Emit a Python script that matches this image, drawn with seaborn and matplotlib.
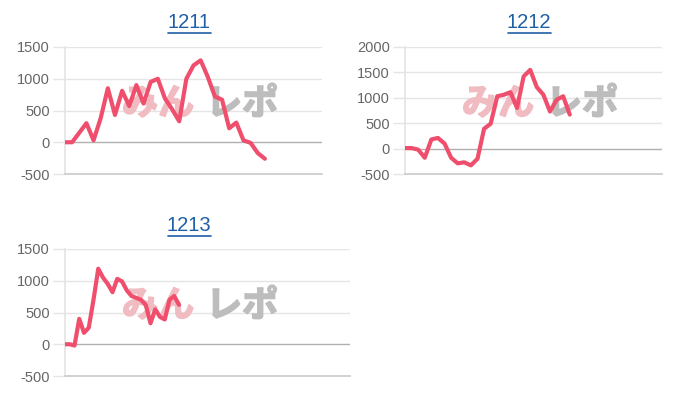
import numpy as np
import pandas as pd
import seaborn as sns
import matplotlib.pyplot as plt
import matplotlib.patheffects as pe
from matplotlib.lines import Line2D

# データ
titles = ['1211', '1212', '1213']
vals_1211 = [0, 0, 150, 300, 30, 380, 850, 430, 810, 570, 900, 610, 950, 1000,
             690, 520, 330, 1000, 1210, 1290, 1030, 720, 670, 220, 310, 30, -10,
             -170, -260]
vals_1212 = [10, 10, -20, -180, 180, 210, 100, -180, -290, -270, -330, -200,
             390, 490, 1030, 1060, 1110, 800, 1420, 1550, 1210, 1060, 730, 960,
             1030, 670]
vals_1213 = [0, 0, -20, 400, 180, 260, 700, 1190, 1050, 950, 820, 1030, 990,
             850, 760, 730, 700, 620, 330, 550, 430, 390, 700, 760, 620]
x_max = [36, 39, 60]
y_ticks = [[-500, 0, 500, 1000, 1500],
           [-500, 0, 500, 1000, 1500, 2000],
           [-500, 0, 500, 1000, 1500]]

sns.set_theme(style='white')
plt.rcParams['font.family'] = ['Liberation Sans', 'Noto Sans CJK JP', 'DejaVu Sans']

line_color = '#ef4f6d'
grid_color = '#e5e5e5'
zero_color = '#b0b0b0'

fig = plt.figure(figsize=(7, 4), dpi=100)

# パネル位置 (px)
panels = [(65, 47, 257, 127), (405, 47, 257, 127), (65, 249, 285, 127)]
title_pos = [(189, 23), (529, 23), (189, 226)]
mark_pos = [(122, 104), (462, 104), (122, 306)]

def px(x, y):
    return x / 700, 1 - y / 400

series = [vals_1211, vals_1212, vals_1213]
for k in range(3):
    l, t, w, h = panels[k]
    ax = fig.add_axes([l / 700, 1 - (t + h) / 400, w / 700, h / 400])
    df = pd.DataFrame({'x': np.arange(len(series[k])), 'y': series[k]})
    sns.lineplot(data=df, x='x', y='y', ax=ax, color=line_color, linewidth=3,
                 zorder=5)
    ax.set_xlim(0, x_max[k])
    ax.set_ylim(y_ticks[k][0], y_ticks[k][-1])
    ax.set_yticks(y_ticks[k])
    ax.set_yticklabels([str(v) for v in y_ticks[k]])
    ax.set_xticks([])
    ax.set_xlabel('')
    ax.set_ylabel('')
    ax.set_facecolor('none')
    for v in y_ticks[k]:
        if v == 0:
            ax.axhline(v, color=zero_color, lw=1, zorder=1)
        elif v != y_ticks[k][0]:
            ax.axhline(v, color=grid_color, lw=1, zorder=1)
    for s in ['top', 'right']:
        ax.spines[s].set_visible(False)
    ax.spines['left'].set_color(grid_color)
    ax.spines['bottom'].set_color('#cccccc')
    ax.tick_params(axis='y', length=9, width=1, color=grid_color, pad=2,
                   labelsize=10.5, labelcolor='#666666', left=True)

    # 透かし (線の下に描く)
    mx, my = px(*mark_pos[k])
    ax.text(mx, my, 'みん', transform=fig.transFigure, fontsize=26,
            fontweight='bold', color='#f0bcc2', va='center', ha='left',
            family=['Noto Sans CJK JP'], zorder=2,
            path_effects=[pe.withStroke(linewidth=1.2, foreground='#f0bcc2')])
    ax.text(mx + 84 / 700, my, 'レポ', transform=fig.transFigure, fontsize=26,
            fontweight='bold', color='#bdbdbd', va='center', ha='left',
            family=['Noto Sans CJK JP'], zorder=2,
            path_effects=[pe.withStroke(linewidth=1.2, foreground='#bdbdbd')])

    # タイトル (下線付き)
    tx, ty = px(*title_pos[k])
    fig.text(tx, ty, titles[k], fontsize=14.5, color='#1f5fa5', ha='center',
             va='center')
    uw = 43 / 700
    fig.add_artist(Line2D([tx - uw / 2, tx + uw / 2], [ty - 10 / 400] * 2,
                          color='#1f5fa5', lw=1.2))

fig.savefig('out.png', dpi=100)
